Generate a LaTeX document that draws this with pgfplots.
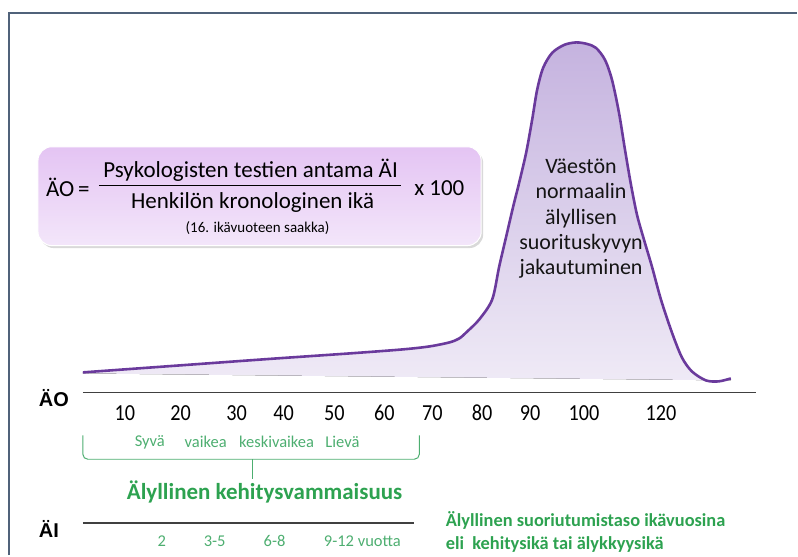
\documentclass[border=0pt]{standalone}
\usepackage{fontspec}
\setmainfont{Carlito}
\newfontfamily\arialfont{Liberation Sans}
\usepackage{graphicx}
\usepackage{pgfplots}
\pgfplotsset{compat=1.18}
\usepgfplotslibrary{fillbetween}
\usetikzlibrary{shadows}
\definecolor{frameC}{HTML}{50627A}
\definecolor{curveC}{HTML}{6A3A9C}
\definecolor{fillTop}{HTML}{C5B3DF}
\definecolor{fillBot}{HTML}{EFEAF6}
\definecolor{boxTop}{HTML}{E4C4F3}
\definecolor{boxBot}{HTML}{F3E6FA}
\definecolor{greenD}{HTML}{2DA250}
\definecolor{greenL}{HTML}{4DAE70}
\definecolor{axisC}{HTML}{404040}
\newcommand{\tl}[1]{\scalebox{0.88}[1]{#1}}
\begin{document}
\begin{tikzpicture}
% page extent and frame (pixel grid: 1px = 1bp)
\path (-83bp,0) rectangle (715bp,556bp);
\draw[frameC, line width=2.6bp] (-74bp,0) -- (-74bp,543bp) -- (715bp,543bp);
\begin{axis}[
  scale only axis, width=674bp, height=556bp,
  xmin=83, xmax=757, ymin=-163, ymax=393,
  axis x line=middle, axis y line=none,
  x axis line style={-, draw=axisC, line width=1.6bp},
  xtick={125,181,237,284,335,385,433,483,531,585,662},
  xticklabels={\tl{10},\tl{20},\tl{30},\tl{40},\tl{50},\tl{60},\tl{70},\tl{80},\tl{90},\tl{100},\tl{120}},
  major tick length=0pt,
  xticklabel style={font=\fontsize{23bp}{23bp}\selectfont, text=black, anchor=base, yshift=-28bp},
  clip=false,
]
\addplot[name path=curve, draw=none, smooth, forget plot] coordinates {
 (83,20) (180,27) (270,33.5) (350,39) (403,43) (430,46) (450,50) (460,54)
 (468,61) (480,73) (493,93) (500,126) (507,156) (514,186) (520,210)
 (527,240) (533,273) (538,303) (544,325) (553,340) (565,348) (577,350.5)
 (588,349) (597,345) (606,333) (613,313) (620,280) (626,243) (632,208)
 (638,178) (645,153) (653,126) (662,93) (673,60) (683,35) (693,21)
 (707,12) (720,11) (732,14)};
\addplot[name path=base, draw=none, forget plot] coordinates {(83,19) (732,12)};
\addplot[top color=fillTop, bottom color=fillBot, draw=none, forget plot] fill between[of=curve and base];
\addplot[curveC, line width=2.6bp, smooth, forget plot] coordinates {
 (83,20) (180,27) (270,33.5) (350,39) (403,43) (430,46) (450,50) (460,54)
 (468,61) (480,73) (493,93) (500,126) (507,156) (514,186) (520,210)
 (527,240) (533,273) (538,303) (544,325) (553,340) (565,348) (577,350.5)
 (588,349) (597,345) (606,333) (613,313) (620,280) (626,243) (632,208)
 (638,178) (645,153) (653,126) (662,93) (673,60) (683,35) (693,21)
 (707,12) (720,11) (732,14)};
% formula box
\draw[rounded corners=14bp, top color=boxTop, bottom color=boxBot, draw=white, line width=1bp,
  drop shadow={shadow xshift=2bp, shadow yshift=-2.5bp, opacity=0.3}]
  (axis cs:38,246) rectangle (axis cs:482,147);
\node[font=\fontsize{23bp}{23bp}\selectfont, anchor=west, inner sep=0pt] at (axis cs:46,205) {ÄO\,=};
\node[font=\fontsize{23bp}{23bp}\selectfont] at (axis cs:251,222) {Psykologisten testien antama ÄI};
\draw[black, line width=0.9bp] (axis cs:99,207.5) -- (axis cs:402,207.5);
\node[font=\fontsize{23bp}{23bp}\selectfont] at (axis cs:253,190) {Henkilön kronologinen ikä};
\node[font=\fontsize{23bp}{23bp}\selectfont] at (axis cs:440,205) {x 100};
\node[font=\fontsize{15bp}{15bp}\selectfont] at (axis cs:258,165) {(16. ikävuoteen saakka)};
% text inside the curve
\node[align=center, font=\fontsize{22bp}{25.3bp}\selectfont, text=black!92] at (axis cs:582,174)
  {Väestön\\normaalin\\älyllisen\\suorituskyvyn\\jakautuminen};
% axis names
\node[font=\arialfont\bfseries\fontsize{20bp}{20bp}\selectfont] at (axis cs:54,-6) {ÄO};
\node[font=\arialfont\bfseries\fontsize{20bp}{20bp}\selectfont] at (axis cs:49,-137) {ÄI};
% levels
\begin{scope}[every node/.style={font=\fontsize{16.5bp}{16.5bp}\selectfont, text=greenL}]
\node at (axis cs:150,-50) {Syvä};
\node at (axis cs:206,-50) {vaikea};
\node at (axis cs:277,-50) {keskivaikea};
\node at (axis cs:343,-50) {Lievä};
\node at (axis cs:162,-149) {2};
\node at (axis cs:215,-149) {3-5};
\node at (axis cs:275,-149) {6-8};
\node[anchor=west] at (axis cs:321,-149) {9-12 vuotta};
\end{scope}
\draw[greenL, line width=1bp, rounded corners=5bp] (axis cs:83,-43) -- (axis cs:83,-67) -- (axis cs:420,-67) -- (axis cs:420,-43);
\draw[greenL, line width=1bp] (axis cs:253,-67) -- (axis cs:253,-87);
\node[font=\bfseries\fontsize{23bp}{23bp}\selectfont, text=greenD] at (axis cs:265,-100) {Älyllinen kehitysvammaisuus};
\draw[axisC, line width=1.3bp] (axis cs:83,-131) -- (axis cs:415,-131);
\node[font=\bfseries\fontsize{18.4bp}{18.4bp}\selectfont, text=greenD, anchor=west] at (axis cs:443,-128) {Älyllinen suoriutumistaso ikävuosina};
\node[font=\bfseries\fontsize{18.4bp}{18.4bp}\selectfont, text=greenD, anchor=west] at (axis cs:443,-152) {eli~ kehitysikä tai älykkyysikä};
\end{axis}
\end{tikzpicture}
\end{document}
